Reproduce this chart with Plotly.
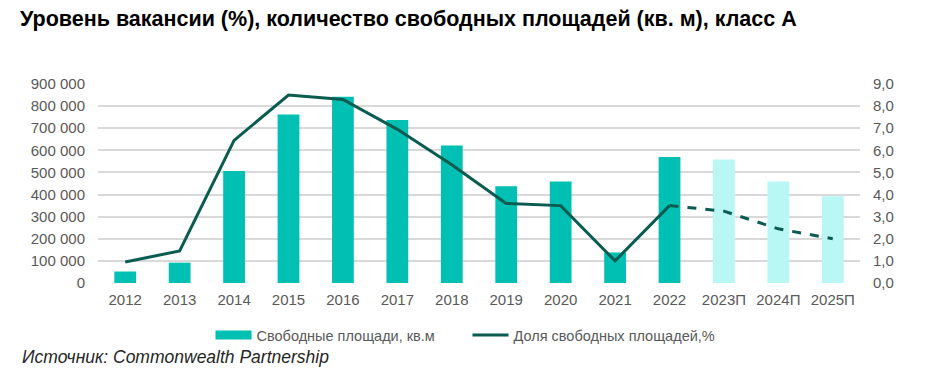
import plotly.graph_objects as go

categories = ["2012", "2013", "2014", "2015", "2016", "2017", "2018", "2019",
              "2020", "2021", "2022", "2023П", "2024П", "2025П"]
free_area = [52000, 92000, 507000, 762000, 842000, 737000, 622000, 438000,
             459000, 138000, 570000, 558000, 459000, 392000]
vacancy = [0.95, 1.45, 6.45, 8.5, 8.3, 6.95, 5.35, 3.6,
           3.5, 1.0, 3.5, 3.25, 2.45, 2.0]
n_actual = 11  # 2012..2022 actual, rest forecast

bar_color = "#00BFB3"
bar_fc_color = "#B8F7F4"
line_color = "#0B5C50"

# page body has an 8px default margin; figure is laid out to compensate
W, H = 928, 371
L, T, R, B = 90, 76, 852, 275
PW, PH = R - L, B - T

def px(x):
    return (x - L) / PW

def py(y):
    return (B - y) / PH

FONT = "Liberation Sans, Arial, sans-serif"

fig = go.Figure()
fig.add_trace(go.Bar(
    x=categories, y=free_area, name="Свободные площади, кв.м", showlegend=False,
    marker=dict(color=[bar_color] * n_actual + [bar_fc_color] * (len(categories) - n_actual),
                line=dict(width=0)),
    yaxis="y",
))
# legend swatch for the bars (wide rectangle like the reference)
fig.add_trace(go.Scatter(
    x=[None], y=[None], name="Свободные площади, кв.м", mode="lines",
    line=dict(color=bar_color, width=9), yaxis="y",
))
fig.add_trace(go.Scatter(
    x=categories[:n_actual], y=vacancy[:n_actual], name="Доля свободных площадей,%",
    mode="lines", line=dict(color=line_color, width=3), yaxis="y2",
))
fig.add_trace(go.Scatter(
    x=categories[n_actual - 1:], y=vacancy[n_actual - 1:], showlegend=False,
    mode="lines", line=dict(color=line_color, width=3, dash="dash"), yaxis="y2",
))

tick_font = dict(family=FONT, size=15, color="#595959")

fig.update_layout(
    width=W, height=H,
    margin=dict(l=L, r=W - R, t=T, b=H - B),
    paper_bgcolor="white", plot_bgcolor="white",
    separators=", ",
    bargap=0.6,
    font=dict(family=FONT, color="#595959"),
    title=dict(text="<b>Уровень вакансии (%), количество свободных площадей (кв. м), класс А</b>",
               x=12 / W, xanchor="left", y=1 - 10 / H, yanchor="middle",
               font=dict(family=FONT, size=21.5, color="black")),
    xaxis=dict(tickfont=tick_font, showgrid=False, showline=False, ticks="",
               ticklabelstandoff=6),
    yaxis=dict(range=[0, 900000], dtick=100000, tickformat=",d", tickfont=tick_font,
               showgrid=True, gridcolor="#D9D9D9", gridwidth=1.5, zeroline=False,
               showline=False, ticklabelstandoff=12),
    yaxis2=dict(range=[0, 9], dtick=1, tickformat=".1f", overlaying="y", side="right",
                tickfont=tick_font, showgrid=False, zeroline=False, showline=False,
                ticklabelstandoff=12),
    legend=dict(orientation="h", x=px(459.5), xanchor="center", y=py(327), yanchor="middle",
                font=dict(family=FONT, size=14.5, color="#595959"),
                itemwidth=36, entrywidth=206, entrywidthmode="pixels"),
    annotations=[dict(text="<i>Источник: Commonwealth Partnership</i>", xref="paper", yref="paper",
                      x=px(12), y=py(349), xanchor="left", yanchor="middle",
                      showarrow=False,
                      font=dict(family=FONT, size=17.5, color="#262626"))],
)

fig.write_html("out.html")
